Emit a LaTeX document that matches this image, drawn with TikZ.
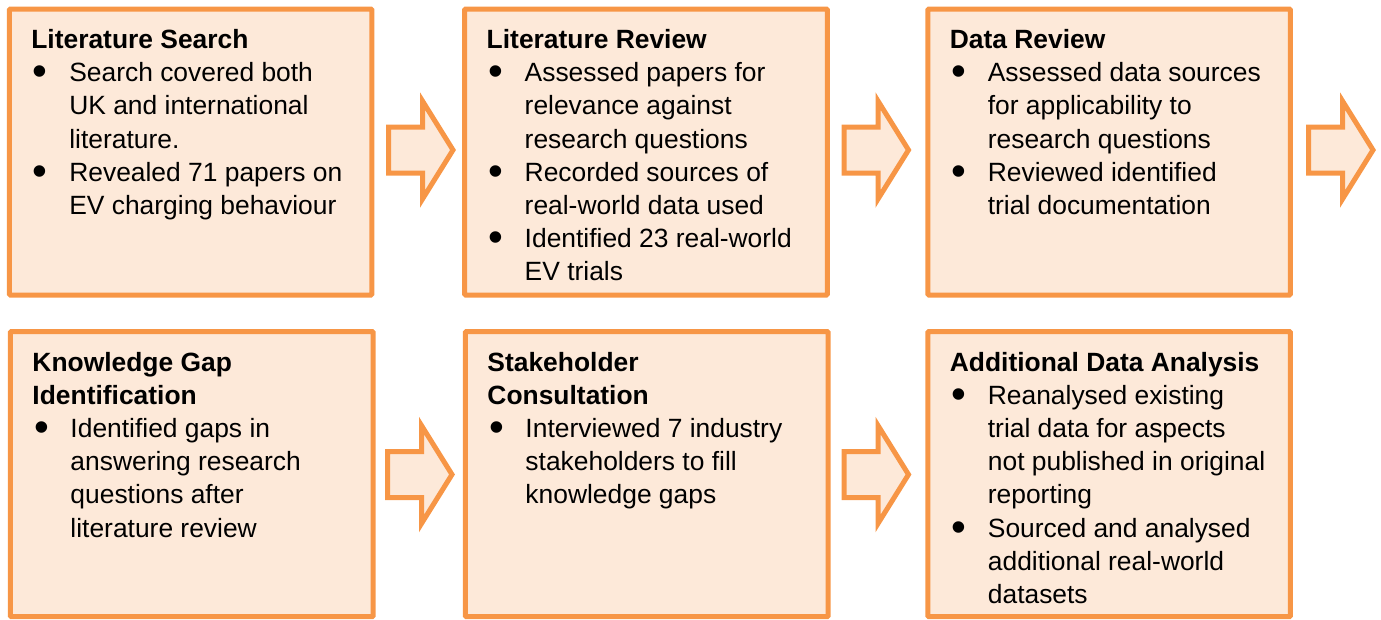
\documentclass[tikz,border=0pt]{standalone}
\usepackage{fontspec}
\usepackage{graphicx}
\setmainfont{Liberation Sans}
\usetikzlibrary{calc}
\definecolor{orng}{HTML}{F79646}
\definecolor{pale}{HTML}{FDE9D9}
\newcommand\bul{\makebox[28.5pt][l]{\hspace{1.2pt}\raisebox{-3pt}{\scalebox{1.6}{\textbullet}}}}
\newcommand\ind{\hspace{28.5pt}}
\tikzset{
  box/.style={draw=orng, fill=pale, line width=3.75pt, outer sep=0pt, inner sep=0pt,
    minimum width=271.9pt, rounded corners=0.75pt},
  row1/.style={minimum height=214.5pt},
  row2/.style={minimum height=213.9pt},
  txt/.style={anchor=base west, inner sep=0pt, outer sep=0pt, align=left,
    font=\fontsize{19.8}{24.9}\selectfont},
  blockarr/.pic={\draw[draw=orng, fill=pale, line width=3.75pt, line join=miter]
    (0,-23) -- (34,-23) -- (34,-49) -- (64.5,0) -- (34,49) -- (34,23) -- (0,23) -- cycle;}
}
\begin{document}
\begin{tikzpicture}[x=0.75pt, y=-0.75pt]
\useasboundingbox (0,0) rectangle (1381,619);
% boxes
\node[box,row1] (b1) at (190.6,152) {};
\node[box,row1] (b2) at (646,152) {};
\node[box,row1] (b3) at (1109.1,152) {};
\node[box,row2] (b4) at (191.75,474.1) {};
\node[box,row2] (b5) at (646.75,474.1) {};
\node[box,row2] (b6) at (1109.15,474.1) {};
% arrows
\pic at (388.5,150) {blockarr};
\pic at (844,150) {blockarr};
\pic at (1308.5,150) {blockarr};
\pic at (387.5,474.5) {blockarr};
\pic at (844,474.5) {blockarr};
% texts
\node[txt] (t1) at ($(b1.north west)+(22,39.5)$) {\begin{tabular}[t]{@{}l@{}}
\textbf{Literature Search}\\
\bul Search covered both\\
\ind UK and international\\
\ind literature.\\
\bul Revealed 71 papers on\\
\ind EV charging behaviour
\end{tabular}};
\node[txt] (t2) at ($(b2.north west)+(22,39.5)$) {\begin{tabular}[t]{@{}l@{}}
\textbf{Literature Review}\\
\bul Assessed papers for\\
\ind relevance against\\
\ind research questions\\
\bul Recorded sources of\\
\ind real-world data used\\
\bul Identified 23 real-world\\
\ind EV trials
\end{tabular}};
\node[txt] (t3) at ($(b3.north west)+(22,39.5)$) {\begin{tabular}[t]{@{}l@{}}
\textbf{Data Review}\\
\bul Assessed data sources\\
\ind for applicability to\\
\ind research questions\\
\bul Reviewed identified\\
\ind trial documentation
\end{tabular}};
\node[txt] (t4) at ($(b4.north west)+(22,39.5)$) {\begin{tabular}[t]{@{}l@{}}
\textbf{Knowledge Gap}\\
\textbf{Identification}\\
\bul Identified gaps in\\
\ind answering research\\
\ind questions after\\
\ind literature review
\end{tabular}};
\node[txt] (t5) at ($(b5.north west)+(22,39.5)$) {\begin{tabular}[t]{@{}l@{}}
\textbf{Stakeholder}\\
\textbf{Consultation}\\
\bul Interviewed 7 industry\\
\ind stakeholders to fill\\
\ind knowledge gaps
\end{tabular}};
\node[txt] (t6) at ($(b6.north west)+(22,39.5)$) {\begin{tabular}[t]{@{}l@{}}
\textbf{Additional Data Analysis}\\
\bul Reanalysed existing\\
\ind trial data for aspects\\
\ind not published in original\\
\ind reporting\\
\bul Sourced and analysed\\
\ind additional real-world\\
\ind datasets
\end{tabular}};
\end{tikzpicture}
\end{document}
